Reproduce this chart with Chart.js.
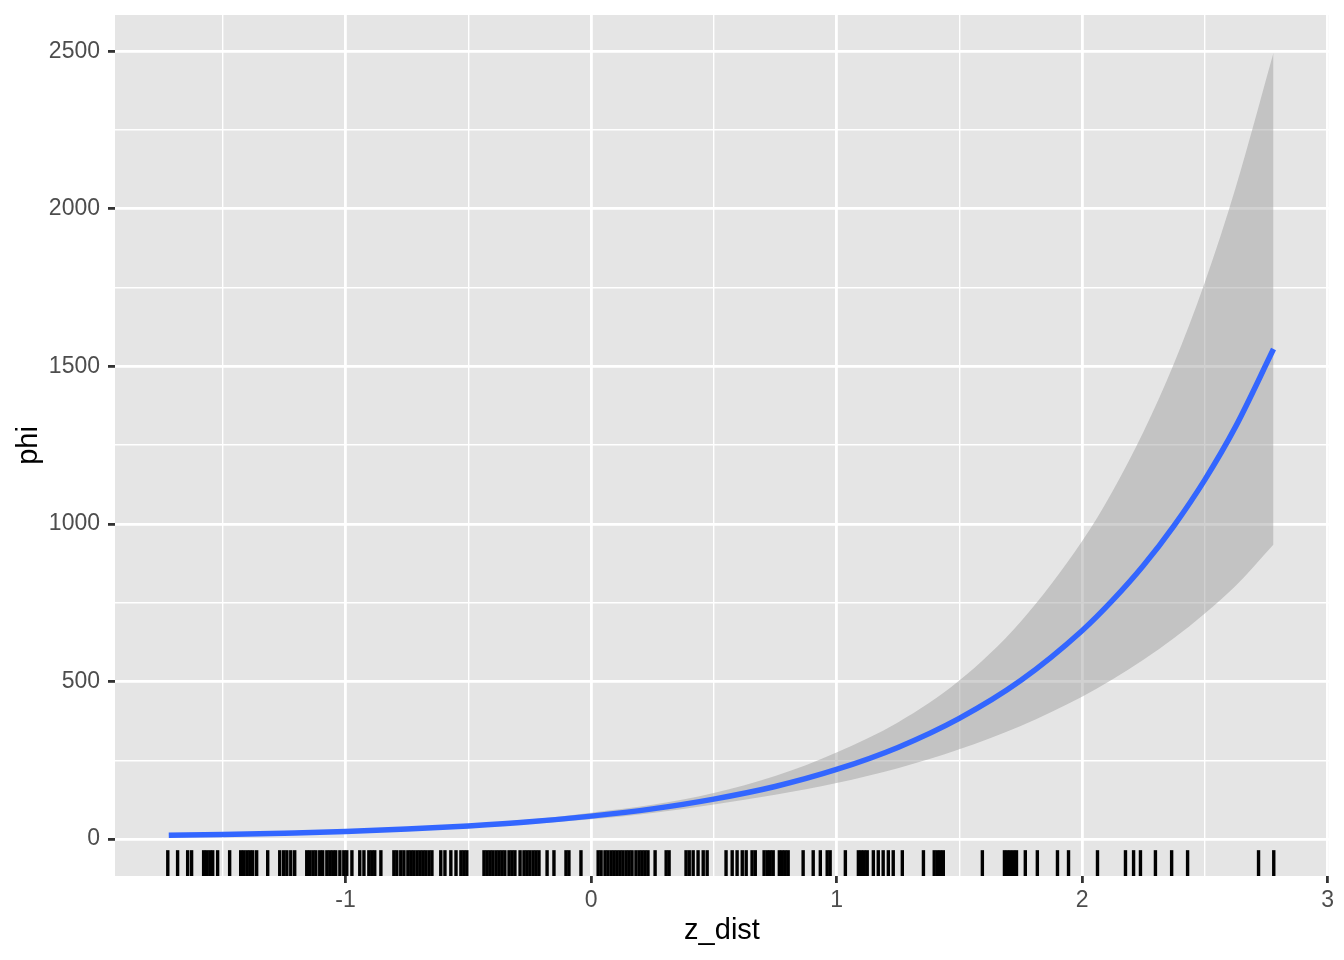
<!DOCTYPE html>
<html>
<head>
<meta charset="utf-8">
<script src="https://cdn.jsdelivr.net/npm/chart.js@4.4.0/dist/chart.umd.min.js"></script>
<style>
  body { margin: 0; background: #fff; }
</style>
</head>
<body>
<canvas id="chart" width="1344" height="960"></canvas>
<script>
// fitted curve and confidence band
const fitX    = [-1.72, -1.5, -1.25, -1, -0.75, -0.5, -0.25, 0, 0.25, 0.5, 0.75, 1, 1.25, 1.5, 1.75, 2, 2.125, 2.25, 2.375, 2.5, 2.625, 2.78];
const fitY    = [12, 15, 19, 24, 32, 42, 55, 73, 96, 127, 167, 221, 291, 383, 503, 661, 758, 868, 995, 1140, 1308, 1555];
const ciLower = [9, 12, 16, 21, 28, 37, 48, 63, 83, 110, 141, 178, 225, 285, 359, 452, 507, 569, 638, 716, 803, 935];
const ciUpper = [14, 17, 22, 27, 36, 47, 62, 84, 109, 146, 200, 275, 370, 503, 690, 945, 1105, 1292, 1510, 1766, 2065, 2495];

// rug positions along z_dist
const rugX = [
  -1.724, -1.684, -1.643, -1.627, -1.578, -1.566, -1.553, -1.541, -1.521, -1.472,
  -1.427, -1.415, -1.402, -1.390, -1.378, -1.362, -1.317, -1.268, -1.252, -1.239,
  -1.223, -1.207, -1.158, -1.146, -1.133, -1.121, -1.105, -1.093, -1.076, -1.064,
  -1.052, -1.040, -1.023, -1.007, -0.995, -0.974, -0.942, -0.925, -0.905, -0.893,
  -0.881, -0.856, -0.803, -0.791, -0.775, -0.762, -0.746, -0.734, -0.722, -0.709,
  -0.697, -0.685, -0.673, -0.660, -0.648, -0.612, -0.595, -0.571, -0.550, -0.530,
  -0.518, -0.506, -0.436, -0.424, -0.412, -0.400, -0.387, -0.375, -0.363, -0.351,
  -0.334, -0.322, -0.310, -0.289, -0.273, -0.261, -0.249, -0.236, -0.224, -0.212,
  -0.179, -0.151, -0.102, -0.090, -0.041, 0.029, 0.041, 0.057, 0.069, 0.082,
  0.094, 0.106, 0.118, 0.130, 0.143, 0.155, 0.167, 0.183, 0.196, 0.208,
  0.220, 0.232, 0.261, 0.306, 0.318, 0.387, 0.400, 0.416, 0.436, 0.457,
  0.473, 0.550, 0.575, 0.595, 0.616, 0.632, 0.656, 0.669, 0.705, 0.718,
  0.730, 0.742, 0.767, 0.779, 0.791, 0.803, 0.864, 0.905, 0.934, 0.962,
  0.974, 1.036, 1.089, 1.101, 1.113, 1.125, 1.150, 1.170, 1.190, 1.211,
  1.231, 1.268, 1.354, 1.398, 1.411, 1.423, 1.435, 1.594, 1.684, 1.696,
  1.708, 1.721, 1.733, 1.769, 1.818, 1.900, 1.945, 2.063, 2.177, 2.210,
  2.238, 2.299, 2.365, 2.430, 2.719, 2.781
];

const xMajor = [-1, 0, 1, 2, 3];
const xMinor = [-1.5, -0.5, 0.5, 1.5, 2.5];
const yMajor = [0, 500, 1000, 1500, 2000, 2500];
const yMinor = [250, 750, 1250, 1750, 2250];

const toPoints = (xs, ys) => xs.map((x, i) => ({ x: x, y: ys[i] }));
const FONT = 'Liberation Sans, Arial, Helvetica, sans-serif';

const panelBg = {
  id: 'panelBg',
  beforeDraw(chart) {
    const { ctx, chartArea: a } = chart;
    ctx.save();
    ctx.fillStyle = '#E5E5E5';
    ctx.fillRect(a.left, a.top, a.right - a.left, a.bottom - a.top);
    ctx.restore();
  }
};

const rug = {
  id: 'rug',
  afterDatasetsDraw(chart) {
    const { ctx, chartArea: a, scales } = chart;
    const len = (a.bottom - a.top) * 0.03;
    ctx.save();
    ctx.strokeStyle = '#000';
    ctx.lineWidth = 3.4;
    rugX.forEach(v => {
      const px = scales.x.getPixelForValue(v);
      ctx.beginPath();
      ctx.moveTo(px, a.bottom);
      ctx.lineTo(px, a.bottom - len);
      ctx.stroke();
    });
    ctx.restore();
  }
};

function axis(major, minor, min, max, title, size, pad) {
  const all = major.concat(minor).sort((a, b) => a - b);
  const isMajor = v => major.includes(v);
  return {
    type: 'linear',
    min: min,
    max: max,
    afterBuildTicks: s => { s.ticks = all.map(v => ({ value: v })); },
    afterFit: s => {
      if (s.isHorizontal()) s.height = size; else s.width = size;
      s.paddingTop = 0; s.paddingBottom = 0; s.paddingLeft = 0; s.paddingRight = 0;
    },
    border: { display: false },
    grid: {
      color: '#FFFFFF',
      lineWidth: c => isMajor(c.tick.value) ? 2.8 : 1.4,
      tickColor: c => isMajor(c.tick.value) ? '#333333' : 'rgba(0,0,0,0)',
      tickWidth: 2.8,
      tickLength: 7
    },
    ticks: {
      autoSkip: false,
      maxRotation: 0,
      includeBounds: false,
      padding: pad,
      color: '#4D4D4D',
      font: { family: FONT, size: 23 },
      callback: v => isMajor(v) ? String(v) : ''
    },
    title: {
      display: true,
      text: title,
      color: '#000000',
      font: { family: FONT, size: 29 },
      padding: { top: 12, bottom: 12 }
    }
  };
}

new Chart(document.getElementById('chart'), {
  type: 'line',
  data: {
    datasets: [
      {
        label: 'fit',
        data: toPoints(fitX, fitY),
        borderColor: '#3366FF',
        borderWidth: 5.5,
        pointRadius: 0,
        cubicInterpolationMode: 'monotone',
        fill: false,
        order: 0
      },
      {
        label: 'lower',
        data: toPoints(fitX, ciLower),
        borderWidth: 0,
        borderColor: 'rgba(0,0,0,0)',
        pointRadius: 0,
        cubicInterpolationMode: 'monotone',
        fill: false,
        order: 2
      },
      {
        label: 'upper',
        data: toPoints(fitX, ciUpper),
        borderWidth: 0,
        borderColor: 'rgba(0,0,0,0)',
        backgroundColor: 'rgba(153,153,153,0.45)',
        pointRadius: 0,
        cubicInterpolationMode: 'monotone',
        fill: '-1',
        order: 1
      }
    ]
  },
  options: {
    responsive: false,
    animation: false,
    devicePixelRatio: 1,
    layout: { padding: { top: 15, right: 15, left: 0, bottom: 0 } },
    plugins: {
      legend: { display: false },
      tooltip: { enabled: false }
    },
    scales: {
      x: axis(xMajor, xMinor, -1.939, 3.006, 'z_dist', 84, 4),
      y: axis(yMajor, yMinor, -117, 2615, 'phi', 115, 8)
    }
  },
  plugins: [panelBg, rug]
});
</script>
</body>
</html>
